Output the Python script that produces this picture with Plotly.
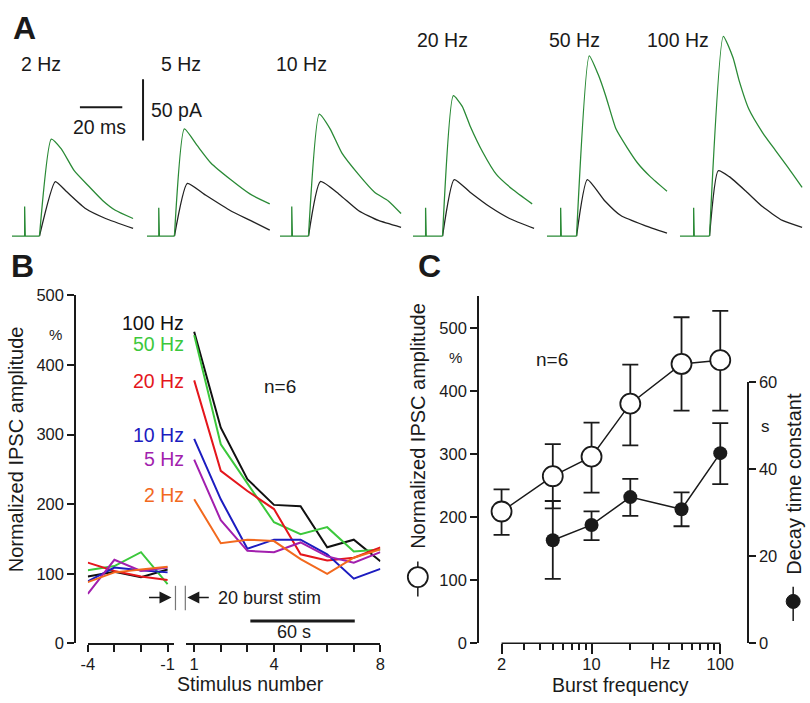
import math
import plotly.graph_objects as go

W, H = 810, 703
FONT = "Liberation Sans, Arial, Helvetica, sans-serif"
INK = "#1a1a1a"


def px(x):
    return x / W


def py(y):
    return 1 - y / H


# ---------------- A: example IPSCs (ms, pA above baseline)
trace_labels = ["2 Hz", "5 Hz", "10 Hz", "20 Hz", "50 Hz", "100 Hz"]
artifact_ms = [6.0, 5.6, 5.6, 6.0, 6.5, 6.5]
artifact_pa = [24, 23, 24, 23, 23, 23]
onset_ms = [13.0, 13.0, 13.5, 14.0, 14.0, 14.0]

green_ms = [
    [18.6, 23.3, 29.5, 36.3, 42.8, 48.8, 57.2],
    [17.7, 23.7, 30.2, 39.5, 48.8, 58.0],
    [18.6, 23.7, 29.3, 37.2, 44.7, 51.2, 57.2],
    [19.1, 23.3, 27.0, 33.0, 39.5, 47.0, 56.3],
    [20.0, 24.2, 27.9, 32.6, 38.1, 42.8, 48.8, 56.7],
    [20.5, 25.1, 27.9, 32.6, 39.1, 45.1, 51.2, 57.7],
]
green_pa = [
    [79, 71, 53, 40.5, 29, 21, 14.3],
    [87.3, 73.8, 59.5, 46.0, 34.1, 26.2],
    [99.2, 87.3, 67.5, 50.0, 35.7, 28.6, 18.3],
    [114.3, 105.6, 89.7, 68.3, 50.0, 38.1, 26.2],
    [146.8, 131.7, 113.5, 87.3, 71.4, 59.5, 48.4, 36.5],
    [162.7, 145.2, 127.0, 103.2, 84.1, 69.8, 55.6, 39.7],
]
black_ms = [
    [20.5, 25.6, 34.9, 44.2, 57.2],
    [19.1, 27.0, 39.5, 48.8, 58.0],
    [19.1, 27.9, 37.2, 46.5, 57.2],
    [19.5, 27.0, 36.3, 45.6, 57.2],
    [19.1, 27.4, 34.9, 46.0, 56.7],
    [18.1, 23.3, 31.2, 39.1, 48.4, 57.7],
]
black_pa = [
    [44.4, 36.5, 22.2, 14.3, 6.3],
    [42.9, 34.1, 20.6, 12.7, 4.8],
    [44.4, 34.1, 20.6, 12.7, 7.1],
    [46.0, 35.7, 23.8, 14.3, 6.3],
    [46.0, 28.6, 16.7, 8.7, 2.4],
    [53.2, 48.4, 36.5, 23.8, 12.7, 7.1],
]

# ---------------- B: normalized amplitude vs stimulus number
stim_pre = [-4, -3, -2, -1]
stim_post = [1, 2, 3, 4, 5, 6, 7, 8]
freq_names = ["100 Hz", "50 Hz", "20 Hz", "10 Hz", "5 Hz", "2 Hz"]
freq_colors = ["#111111", "#3cc83c", "#e4161c", "#1c1cc0", "#a21fae", "#f2691e"]
amp_pre = [
    [96, 103, 95, 106],
    [105, 111, 131, 85],
    [116, 104, 96, 91],
    [89, 109, 105, 102],
    [71, 120, 104, 109],
    [88, 102, 106, 110],
]
amp_post = [
    [448, 310, 236, 199, 197, 138, 149, 118],
    [443, 286, 230, 174, 157, 167, 132, 135],
    [378, 248, 219, 193, 128, 119, 123, 138],
    [294, 207, 136, 149, 149, 128, 93, 107],
    [264, 177, 133, 131, 145, 125, 116, 131],
    [207, 144, 149, 147, 121, 100, 123, 135],
]

# ---------------- C: summary vs burst frequency
burst_hz = [2, 5, 10, 20, 50, 100]
amp_mean = [209, 265, 296, 380, 443, 449]
amp_up = [35, 51, 54, 62, 74, 78]
amp_down = [37, 51, 57, 66, 74, 80]
tau_hz = [5, 10, 20, 50, 100]
tau_mean = [23.7, 27.2, 33.6, 30.8, 43.7]
tau_up = [9.0, 3.1, 4.2, 3.9, 6.9]
tau_down = [8.9, 3.5, 4.3, 3.9, 7.1]

fig = go.Figure()

# ---- A traces
trace_left = [5, 142, 277, 412, 548, 683]
MS_PER_PX = 1 / 2.15
for i in range(6):
    ax = "x%d" % (i + 4)
    t_a = artifact_ms[i]
    # baseline + stimulus artifact
    fig.add_trace(go.Scatter(x=[0, t_a, t_a, t_a + 0.3, onset_ms[i]], y=[0, 0, artifact_pa[i], 0, 0],
                             xaxis=ax, yaxis="y5", mode="lines",
                             line=dict(color="#2a8a36", width=1.3), showlegend=False))
    fig.add_trace(go.Scatter(x=[onset_ms[i]] + black_ms[i], y=[0] + black_pa[i],
                             xaxis=ax, yaxis="y5", mode="lines",
                             line=dict(color="#222222", width=1.3, shape="spline", smoothing=0.5),
                             showlegend=False))
    fig.add_trace(go.Scatter(x=[onset_ms[i]] + green_ms[i], y=[0] + green_pa[i],
                             xaxis=ax, yaxis="y5", mode="lines",
                             line=dict(color="#2a8a36", width=1.3, shape="spline", smoothing=0.5),
                             showlegend=False))

# ---- B traces
for i in range(6):
    fig.add_trace(go.Scatter(x=stim_pre, y=amp_pre[i], xaxis="x", yaxis="y", mode="lines",
                             line=dict(color=freq_colors[i], width=2), showlegend=False))
    fig.add_trace(go.Scatter(x=stim_post, y=amp_post[i], xaxis="x2", yaxis="y", mode="lines",
                             line=dict(color=freq_colors[i], width=2), showlegend=False))

# ---- C traces
fig.add_trace(go.Scatter(
    x=tau_hz, y=tau_mean, xaxis="x3", yaxis="y4", mode="lines+markers",
    line=dict(color=INK, width=1.5),
    marker=dict(size=14, color=INK),
    error_y=dict(type="data", symmetric=False, array=tau_up, arrayminus=tau_down,
                 color=INK, thickness=1.8, width=8),
    showlegend=False))
fig.add_trace(go.Scatter(
    x=burst_hz, y=amp_mean, xaxis="x3", yaxis="y3", mode="lines+markers",
    line=dict(color=INK, width=1.5),
    marker=dict(size=20, color="white", line=dict(color=INK, width=1.8)),
    error_y=dict(type="data", symmetric=False, array=amp_up, arrayminus=amp_down,
                 color=INK, thickness=1.8, width=8),
    showlegend=False))

axis_common = dict(showline=True, linewidth=1.5, linecolor=INK, ticks="outside",
                   tickwidth=1.5, tickcolor=INK, showgrid=False, zeroline=False,
                   tickfont=dict(size=16.5, color=INK, family=FONT))

# C x axis: 2 Hz sits at 502 px, 100 Hz at 724 px; domain padded so end markers are not cut
dec_per_px = (2 - math.log10(2)) / (724 - 502)
c_lo, c_hi = 482, 746

layout = dict(
    width=W, height=H, margin=dict(l=0, r=0, t=0, b=0),
    paper_bgcolor="white", plot_bgcolor="rgba(0,0,0,0)",
    font=dict(family=FONT, color=INK),
    xaxis=dict(domain=[px(82), px(170)], range=[-4, -1 + 7 / 27], anchor="y", ticklen=7,
               ticklabelstandoff=-2,
               tickmode="array", tickvals=stim_pre, ticktext=["-4", "", "", "-1"], **axis_common),
    xaxis2=dict(domain=[px(182), px(379)], range=[1 - 8 / 27, 8], anchor="y", ticklen=7,
                ticklabelstandoff=-2, tickmode="array", tickvals=stim_post,
                ticktext=["1", "", "", "4", "", "", "", "8"], **axis_common),
    yaxis=dict(domain=[py(651), py(294)], range=[0, 500], anchor="free", position=px(69),
               ticklen=7, tickmode="array", tickvals=[0, 100, 200, 300, 400, 500], **axis_common),
    xaxis3=dict(type="log", domain=[px(c_lo), px(c_hi)],
                range=[math.log10(2) - (502 - c_lo) * dec_per_px, 2 + (c_hi - 724) * dec_per_px],
                anchor="y3", ticklen=10, ticklabelstandoff=-4, tickmode="array", tickvals=[2, 10, 100],
                ticktext=["2", "10", "100"],
                minor=dict(tickmode="array", tickvals=[3, 4, 5, 6, 7, 8, 9, 20, 30, 40, 50, 60, 70, 80, 90],
                           ticks="outside", ticklen=6, tickwidth=1.5, tickcolor=INK),
                **dict(axis_common, showline=False)),
    yaxis3=dict(domain=[py(651), py(295)], range=[0, 550], anchor="free", position=px(478),
                ticklen=7, tickmode="array", tickvals=[0, 100, 200, 300, 400, 500], **axis_common),
    yaxis4=dict(domain=[py(651), py(383)], range=[0, 60], anchor="free", position=px(752),
                side="right", ticklen=7, tickmode="array", tickvals=[0, 20, 40, 60], **axis_common),
    yaxis5=dict(domain=[py(245), py(20)], range=[-9.52, 169.05], anchor="x4", visible=False),
)
for i in range(6):
    span = min(135, W - trace_left[i])
    layout["xaxis%d" % (i + 4)] = dict(domain=[px(trace_left[i]), px(trace_left[i] + span)],
                                        range=[0, span * MS_PER_PX], anchor="y5", visible=False)
fig.update_layout(**layout)


def note(text, x, y, size=18, xa="center", ya="middle", angle=0, color=INK):
    fig.add_annotation(text=text, x=px(x), y=py(y), xref="paper", yref="paper",
                       xanchor=xa, yanchor=ya, showarrow=False, textangle=angle,
                       font=dict(size=size, color=color, family=FONT))


def hline(x0, x1, y, width=1.5, color=INK):
    fig.add_shape(type="line", xref="paper", yref="paper", x0=px(x0), x1=px(x1),
                  y0=py(y), y1=py(y), line=dict(color=color, width=width))


def vline(x, y0, y1, width=1.5, color=INK):
    fig.add_shape(type="line", xref="paper", yref="paper", x0=px(x), x1=px(x),
                  y0=py(y0), y1=py(y1), line=dict(color=color, width=width))


# panel letters
note("<b>A</b>", 18, 20, size=32)
note("<b>B</b>", 16, 264, size=32)
note("<b>C</b>", 429, 264, size=32)

# A labels and scale bars (20 ms, 50 pA in the 2 Hz trace's units)
a_label_pos = [(35, 56), (177, 56), (299, 56), (442, 32), (576, 32), (681, 32)]
for lab, (lx, ly) in zip(trace_labels, a_label_pos):
    note(lab, lx, ly, size=19.5)
note("20 ms", 94, 121, size=19.5)
note("50 pA", 144, 104, size=19.5, xa="left")
fig.add_shape(type="line", xref="x4", yref="y5", x0=32.1, x1=52.1, y0=104.8, y1=104.8,
              line=dict(color=INK, width=2))
fig.add_shape(type="line", xref="x4", yref="y5", x0=61.9, x1=61.9, y0=77.8, y1=127.8,
              line=dict(color=INK, width=2))

# B labels
b_label_y = [322, 344, 382, 437, 462, 499]
for name, col, ly in zip(freq_names, freq_colors, b_label_y):
    note(name, 182, ly, size=19.5, xa="right", color=col)
note("%", 49, 334, size=15)
note("n=6", 277, 387, size=19)
note("Stimulus number", 247, 693, size=19.5)
note("Normalized IPSC amplitude", 10, 452, size=20, angle=-90)
note("20 burst stim", 212, 604, size=18, xa="left")
note("60 s", 291, 639, size=18)
vline(171, 592, 617, width=1.2, color="#777777")
vline(181, 592, 617, width=1.2, color="#777777")
hline(247, 353, 628, width=3)
fig.add_annotation(x=px(167), y=py(604), xref="paper", yref="paper", ax=-24, ay=0, text="",
                   showarrow=True, arrowhead=2, arrowsize=1.6, arrowwidth=1.5, arrowcolor=INK)
fig.add_annotation(x=px(183), y=py(604), xref="paper", yref="paper", ax=23, ay=0, text="",
                   showarrow=True, arrowhead=2, arrowsize=1.6, arrowwidth=1.5, arrowcolor=INK)

# C labels
hline(502, 724, 651)
note("n=6", 553, 360, size=19)
note("%", 455, 358, size=15)
note("s", 770, 428, size=17)
note("Hz", 663, 671, size=16.5)
note("Burst frequency", 623, 694, size=19.5)
note("Normalized IPSC amplitude", 417, 428, size=20, angle=-90)
note("Decay time constant", 798, 487, size=20, angle=-90)
vline(417, 567, 603)
fig.add_shape(type="circle", xref="paper", yref="paper", xsizemode="pixel", ysizemode="pixel",
              xanchor=px(417), yanchor=py(583), x0=-10, x1=10, y0=-10, y1=10,
              fillcolor="white", line=dict(color=INK, width=1.8))
vline(798, 593, 628)
fig.add_shape(type="circle", xref="paper", yref="paper", xsizemode="pixel", ysizemode="pixel",
              xanchor=px(798), yanchor=py(608), x0=-7, x1=7, y0=-7, y1=7,
              fillcolor=INK, line=dict(color=INK, width=1))

# the page's default body margin would push the figure 8 px off the window corner
fig.write_html("out.html", config={"displayModeBar": False},
               post_script="document.body.style.margin='0';")
